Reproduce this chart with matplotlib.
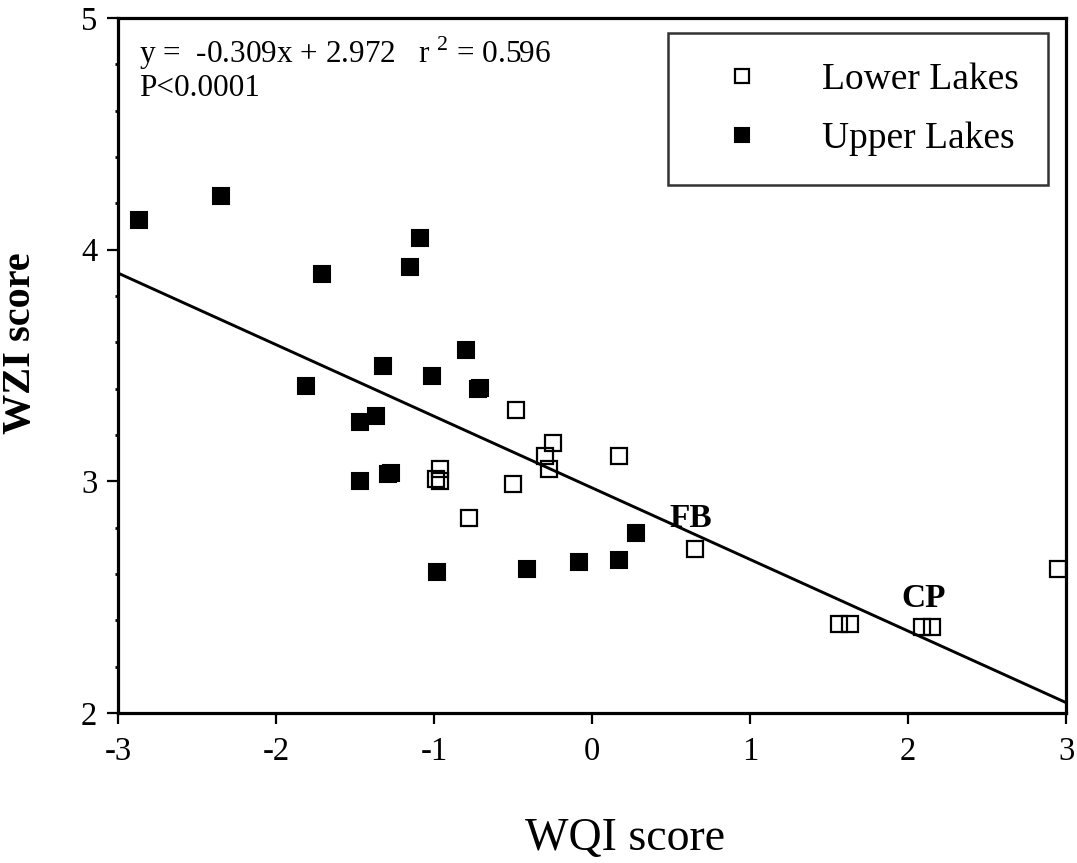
import numpy as np
import matplotlib
matplotlib.use("Agg")
import matplotlib.pyplot as plt
from matplotlib.ticker import MultipleLocator
from matplotlib.lines import Line2D

plt.rcParams["font.family"] = ["Liberation Serif", "DejaVu Serif"]
plt.rcParams["mathtext.fontset"] = "custom"
plt.rcParams["mathtext.rm"] = "Liberation Serif"

# Upper Lakes (filled squares)
upper_wqi = [-2.87, -2.35, -1.71, -1.09, -1.15, -1.81, -1.32, -0.80, -1.01,
             -0.72, -0.71, -1.47, -1.37, -1.47, -1.29, -1.27, -0.98, -0.41,
             -0.08, 0.17, 0.28]
upper_wzi = [4.13, 4.23, 3.895, 4.05, 3.925, 3.41, 3.50, 3.565, 3.455,
             3.40, 3.405, 3.255, 3.28, 3.00, 3.03, 3.035, 2.61, 2.62,
             2.65, 2.66, 2.775]

# Lower Lakes (open squares)
lower_wqi = [-0.48, -0.25, -0.30, -0.27, 0.17, -0.96, -0.96, -0.985, -0.50,
             -0.78, 0.65, 1.56, 1.63, 2.09, 2.15, 2.95]
lower_wzi = [3.31, 3.165, 3.11, 3.055, 3.11, 3.055, 3.00, 3.01, 2.99,
             2.84, 2.71, 2.385, 2.385, 2.37, 2.37, 2.62]

# Least-squares line reported on the chart
slope, intercept = -0.309, 2.972
r_squared = 0.596

x_ticks = [-3, -2, -1, 0, 1, 2, 3]
y_ticks = [2, 3, 4, 5]

fig = plt.figure(figsize=(10.77, 8.63), dpi=100)
ax = fig.add_axes([0.1096, 0.1738, 0.8802, 0.8053])

xs = np.array([-3.0, 3.0])
ax.plot(xs, slope * xs + intercept, color="black", lw=2.1, zorder=2)

ax.plot(upper_wqi, upper_wzi, linestyle="none", marker="s", ms=11.5,
        mfc="black", mec="black", mew=1.5, zorder=3, label="Upper Lakes")
ax.plot(lower_wqi, lower_wzi, linestyle="none", marker="s", ms=11.5,
        mfc="none", mec="black", mew=1.6, zorder=3, label="Lower Lakes")

ax.set_xlim(-3, 3)
ax.set_ylim(2, 5)
ax.set_xticks(x_ticks)
ax.set_xticklabels([str(t) for t in x_ticks])
ax.set_yticks(y_ticks)
ax.yaxis.set_minor_locator(MultipleLocator(0.2))

for sp in ax.spines.values():
    sp.set_linewidth(2.3)

ax.tick_params(axis="both", which="major", direction="out", length=8,
               width=1.6, labelsize=23.5, color="black")
ax.tick_params(axis="x", pad=9)
ax.tick_params(axis="y", pad=7)
ax.tick_params(axis="y", which="minor", direction="out", length=2.2, width=2)

# Equation and significance text
ax.text(0.022, 0.935, "y =  -0.309x + 2.972   r $^{2}$ = %.3f" % r_squared,
        transform=ax.transAxes, fontsize=22.5, ha="left", va="baseline")
ax.text(0.022, 0.888, "P<0.0001", transform=ax.transAxes, fontsize=22.5,
        ha="left", va="baseline")

# Site labels
ax.text(0.487, 2.803, "FB", fontsize=24, fontweight="bold", ha="left",
        va="baseline")
ax.text(1.956, 2.458, "CP", fontsize=24, fontweight="bold", ha="left",
        va="baseline")

xl = ax.set_xlabel("WQI score", fontsize=33)
ax.xaxis.set_label_coords(0.535, -0.181)
xl.set_va("center")
yl = ax.set_ylabel("WZI score", fontsize=29, fontweight="bold")
ax.yaxis.set_label_coords(-0.103, 0.532)
yl.set_va("center")

handles = [
    Line2D([], [], linestyle="none", marker="s", ms=10, mfc="none",
           mec="black", mew=1.6),
    Line2D([], [], linestyle="none", marker="s", ms=10, mfc="black",
           mec="black", mew=1.5),
]
leg = ax.legend(handles, ["Lower Lakes", "Upper Lakes"], loc="upper right",
                bbox_to_anchor=(0.981, 0.978), borderaxespad=0, fontsize=27,
                frameon=True, fancybox=False, edgecolor="black",
                borderpad=0.78, handlelength=2.4, handletextpad=0.93,
                labelspacing=0.65)
leg.get_frame().set_linewidth(1.8)

fig.savefig("out.png", dpi=100, facecolor="white")
